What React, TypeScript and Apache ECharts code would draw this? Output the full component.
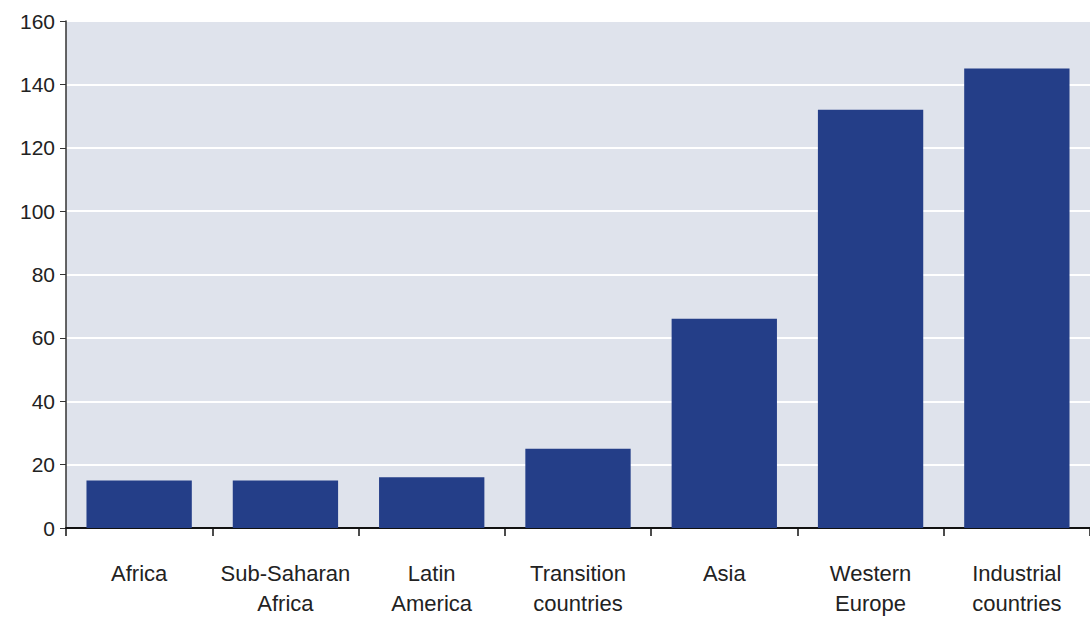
import React, { useEffect, useRef } from "react";
import * as echarts from "echarts";

const categories = [
  "Africa",
  "Sub-Saharan\nAfrica",
  "Latin\nAmerica",
  "Transition\ncountries",
  "Asia",
  "Western\nEurope",
  "Industrial\ncountries",
];
const values = [15, 15, 16, 25, 66, 132, 145];
const yMin = 0;
const yMax = 160;
const yStep = 20;

export default function App() {
  const ref = useRef<HTMLDivElement>(null);
  useEffect(() => {
    document.body.style.margin = "0";
    const chart = echarts.init(ref.current!, null, { renderer: "svg" });
    chart.setOption({
      animation: false,
      backgroundColor: "#ffffff",
      grid: {
        left: 66,
        top: 21,
        width: 1029,
        height: 513,
        show: true,
        backgroundColor: "#dfe3ec",
        borderWidth: 0,
      },
      xAxis: {
        type: "category",
        data: categories,
        axisLine: { show: true, lineStyle: { color: "#111", width: 2 } },
        axisTick: { show: true, length: 8, lineStyle: { color: "#111", width: 1.5 } },
        axisLabel: {
          margin: 30,
          fontFamily: "Liberation Sans, Arial, sans-serif",
          fontSize: 22,
          lineHeight: 30,
          color: "#222",
          interval: 0,
        },
      },
      yAxis: {
        type: "value",
        min: yMin,
        max: yMax,
        interval: yStep,
        axisLine: { show: true, lineStyle: { color: "#333", width: 1.5 } },
        axisTick: { show: true, length: 6, lineStyle: { color: "#333", width: 1 } },
        axisLabel: {
          margin: 11,
          fontFamily: "Liberation Sans, Arial, sans-serif",
          fontSize: 21,
          color: "#222",
        },
        splitLine: { show: true, lineStyle: { color: "#ffffff", width: 2 } },
      },
      series: [
        {
          type: "bar",
          data: values,
          barCategoryGap: "28%",
          itemStyle: { color: "#243e88" },
        },
      ],
    });
    return () => chart.dispose();
  }, []);
  return (
    <div
      ref={ref}
      style={{ position: "fixed", left: 0, top: 0, width: 1090, height: 618 }}
    />
  );
}
